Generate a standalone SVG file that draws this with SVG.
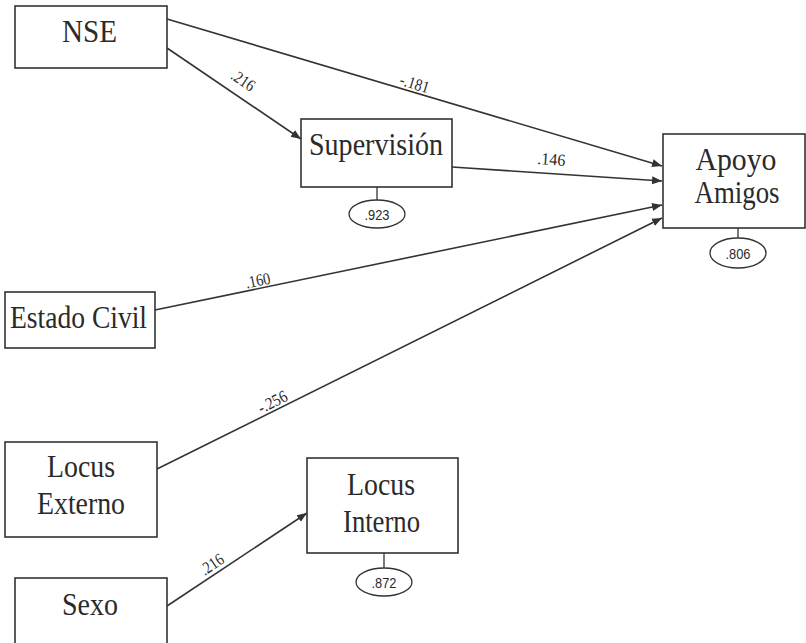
<svg xmlns="http://www.w3.org/2000/svg" width="806" height="643" viewBox="0 0 806 643">
  <style>
    .box { fill: #ffffff; stroke: #333333; stroke-width: 1.6; }
    .err { fill: #ffffff; stroke: #333333; stroke-width: 1.3; }
    .lbl { font-family: "Liberation Serif", "Times New Roman", serif; font-size: 32px; fill: #2a2a2a; text-anchor: middle; }
    .coef { font-family: "Liberation Serif", "Times New Roman", serif; font-size: 17px; fill: #2a2a2a; text-anchor: middle; }
    .ev { font-family: "Liberation Sans", Arial, sans-serif; font-size: 15px; fill: #2a2a2a; text-anchor: middle; }
    .path { fill: none; stroke: #333333; stroke-width: 1.6; }
    .tie { stroke: #333333; stroke-width: 1.3; }
  </style>
  <defs>
    <marker id="arrow" viewBox="0 0 10 10" refX="10" refY="5" markerWidth="10" markerHeight="10" markerUnits="userSpaceOnUse" orient="auto">
      <path d="M0,1 L10,5 L0,9 Z" fill="#333333"/>
    </marker>
  </defs>
  <rect width="806" height="643" fill="#ffffff"/>

  <!-- structural paths -->
  <g id="connectors">
    <line class="path" x1="167" y1="48" x2="301" y2="139" marker-end="url(#arrow)"/>
    <line class="path" x1="167" y1="19" x2="662" y2="166" marker-end="url(#arrow)"/>
    <line class="path" x1="452" y1="167" x2="662" y2="181" marker-end="url(#arrow)"/>
    <line class="path" x1="155" y1="310" x2="662" y2="205" marker-end="url(#arrow)"/>
    <line class="path" x1="157" y1="469" x2="662" y2="218" marker-end="url(#arrow)"/>
    <line class="path" x1="167" y1="606" x2="307" y2="513" marker-end="url(#arrow)"/>
    <!-- error terms -->
    <line class="tie" x1="377" y1="187" x2="377" y2="200"/>
    <line class="tie" x1="738" y1="228" x2="738" y2="238"/>
    <line class="tie" x1="384" y1="553" x2="384" y2="568"/>
    <!-- coefficients -->
    <text class="coef" transform="translate(240,85) rotate(34)" textLength="25" lengthAdjust="spacingAndGlyphs">.216</text>
    <text class="coef" transform="translate(413,89) rotate(17)" textLength="30" lengthAdjust="spacingAndGlyphs">-.181</text>
    <text class="coef" transform="translate(551,165) rotate(4)" textLength="28" lengthAdjust="spacingAndGlyphs">.146</text>
    <text class="coef" transform="translate(259,286) rotate(-12)" textLength="25" lengthAdjust="spacingAndGlyphs">.160</text>
    <text class="coef" transform="translate(275,407) rotate(-27)" textLength="31" lengthAdjust="spacingAndGlyphs">-.256</text>
    <text class="coef" transform="translate(215,569) rotate(-34)" textLength="25" lengthAdjust="spacingAndGlyphs">.216</text>
  </g>

  <g id="nse">
    <rect class="box" x="15" y="6" width="152" height="62"/>
    <text class="lbl" x="89.5" y="42" textLength="55" lengthAdjust="spacingAndGlyphs">NSE</text>
  </g>

  <g id="supervision">
    <rect class="box" x="301" y="119" width="151" height="68"/>
    <text class="lbl" x="376" y="155" textLength="134" lengthAdjust="spacingAndGlyphs">Supervisión</text>
    <ellipse class="err" cx="377" cy="214" rx="28" ry="14"/>
    <text class="ev" x="377" y="219.5" textLength="25" lengthAdjust="spacingAndGlyphs">.923</text>
  </g>

  <g id="apoyo-amigos">
    <rect class="box" x="663" y="134" width="142" height="94"/>
    <text class="lbl" x="736" y="170" textLength="81" lengthAdjust="spacingAndGlyphs">Apoyo</text>
    <text class="lbl" x="737" y="203" textLength="85" lengthAdjust="spacingAndGlyphs">Amigos</text>
    <ellipse class="err" cx="738" cy="253" rx="28" ry="15"/>
    <text class="ev" x="738" y="258.5" textLength="25" lengthAdjust="spacingAndGlyphs">.806</text>
  </g>

  <g id="estado-civil">
    <rect class="box" x="5" y="292" width="150" height="56"/>
    <text class="lbl" x="78.5" y="328" textLength="137" lengthAdjust="spacingAndGlyphs">Estado Civil</text>
  </g>

  <g id="locus-externo">
    <rect class="box" x="5" y="442" width="152" height="95"/>
    <text class="lbl" x="81" y="477" textLength="68" lengthAdjust="spacingAndGlyphs">Locus</text>
    <text class="lbl" x="81" y="514" textLength="88" lengthAdjust="spacingAndGlyphs">Externo</text>
  </g>

  <g id="locus-interno">
    <rect class="box" x="307" y="458" width="151" height="95"/>
    <text class="lbl" x="381" y="495" textLength="68" lengthAdjust="spacingAndGlyphs">Locus</text>
    <text class="lbl" x="381.5" y="532" textLength="77" lengthAdjust="spacingAndGlyphs">Interno</text>
    <ellipse class="err" cx="384" cy="582" rx="28" ry="14"/>
    <text class="ev" x="384" y="587.5" textLength="25" lengthAdjust="spacingAndGlyphs">.872</text>
  </g>

  <g id="sexo">
    <rect class="box" x="15" y="578" width="152" height="70"/>
    <text class="lbl" x="90" y="615" textLength="56" lengthAdjust="spacingAndGlyphs">Sexo</text>
  </g>
</svg>
